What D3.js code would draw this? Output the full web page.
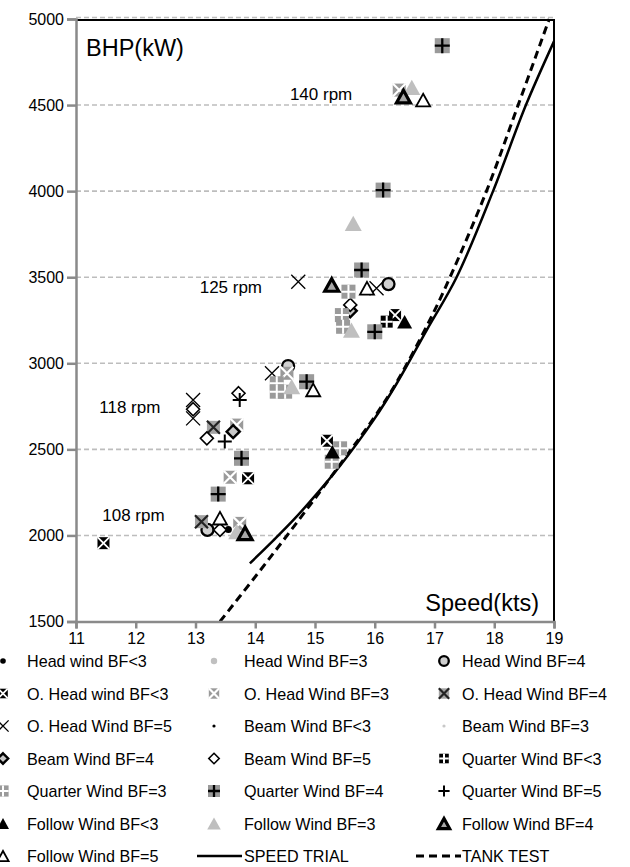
<!DOCTYPE html>
<html><head><meta charset="utf-8">
<script src="https://cdn.jsdelivr.net/npm/d3@7"></script>
<style>body{margin:0;background:#fff} svg{display:block}</style>
</head><body><svg id="c" width="630" height="867"></svg>
<script>
// ---------- data ----------
const xTickValues = [11,12,13,14,15,16,17,18,19];
const yTickValues = [1500,2000,2500,3000,3500,4000,4500,5000];
const rpmLabels = [["140 rpm",14.58,4529],["125 rpm",13.07,3408],["118 rpm",11.39,2711],["108 rpm",11.44,2084]];

const headWindBF0 = [[13.55,2035]];
const headWindBF3 = [];
const headWindBF4 = [[13.2,2032],[14.55,2984],[16.23,3460]];
const oHeadWindBF0 = [[11.46,1955],[13.88,2332],[15.2,2550],[16.34,3280]];
const oHeadWindBF3 = [[13.69,2641],[13.58,2338],[13.74,2070],[14.53,2942],[16.41,4587]];
const oHeadWindBF4 = [[13.30,2628],[13.10,2080]];
const oHeadWindBF5 = [[12.96,2787],[12.96,2680],[14.28,2942],[14.72,3474],[16.03,3436]];
const beamWindBF0 = [];
const beamWindBF3 = [];
const beamWindBF4 = [[13.63,2603],[15.59,3305]];
const beamWindBF5 = [[12.96,2733],[13.72,2826],[13.19,2564],[13.41,2032],[15.59,3339]];
const quarterWindBF0 = [[16.2,3242]];
const quarterWindBF3 = [[14.36,2884],[14.36,2835],[14.5,2835],[15.56,3416],[15.45,3280],[15.47,3212],[15.42,2506],[15.28,2428]];
const quarterWindBF4 = [[13.77,2448],[13.38,2240],[14.86,2893],[15.78,3542],[16.0,3183],[16.14,4006],[17.13,4845]];
const quarterWindBF5 = [[13.74,2787],[13.49,2545]];
const followWindBF0 = [[15.29,2486],[16.5,3242]];
const followWindBF3 = [[13.69,2022],[14.61,2864],[15.61,3193],[15.64,3813],[16.62,4603]];
const followWindBF4 = [[13.83,2012],[15.28,3455],[16.48,4549]];
const followWindBF5 = [[13.41,2100],[14.97,2845],[15.87,3436],[16.81,4529]];

const speedTrial = [[13.91,1838],[14.3,1970],[14.64,2090],[15.0,2230],[15.42,2405],[15.98,2670],[16.37,2884],[16.87,3193],[17.37,3500],[17.98,4000],[18.53,4500],[19.0,4870]];
const tankTest = [[13.41,1500],[14.0,1760],[14.5,1985],[15.0,2215],[15.5,2450],[15.98,2680],[16.37,2892],[16.92,3250],[17.26,3500],[17.87,4000],[18.4,4500],[18.92,5000]];

const seriesNames = ["Head wind BF<3","Head Wind BF=3","Head Wind BF=4","O. Head wind BF<3","O. Head Wind BF=3","O. Head Wind BF=4","O. Head Wind BF=5","Beam Wind BF<3","Beam Wind BF=3","Beam Wind BF=4","Beam Wind BF=5","Quarter Wind BF<3","Quarter Wind BF=3","Quarter Wind BF=4","Quarter Wind BF=5","Follow Wind BF<3","Follow Wind BF=3","Follow Wind BF=4","Follow Wind BF=5"];
const seriesData = [headWindBF0,headWindBF3,headWindBF4,oHeadWindBF0,oHeadWindBF3,oHeadWindBF4,oHeadWindBF5,beamWindBF0,beamWindBF3,beamWindBF4,beamWindBF5,quarterWindBF0,quarterWindBF3,quarterWindBF4,quarterWindBF5,followWindBF0,followWindBF3,followWindBF4,followWindBF5];
const seriesMarkers = ["dotBlack","dotGray","circleBold","xsqBlack","xsqGray","xsqDark","xThin","dotSmallBlack","dotSmallGray","diamondGray","diamondWhite","psqBlack","psqGray","psqGrayBlack","plus","triBlack","triGray","triBold","triWhite"];

// ---------- layout ----------
const svg = d3.select("#c");
const L=76, R=554, T=19, B=621.5;
const x = d3.scaleLinear().domain([11,19]).range([L,R]);
const y = d3.scaleLinear().domain([1500,5000]).range([B,T]);
const FONT = "'Liberation Sans', Arial, sans-serif";

// gridlines
svg.append("g").selectAll("line").data(yTickValues.filter(d=>d>1500)).join("line")
  .attr("x1",L).attr("x2",R).attr("y1",d=>y(d)-(d===5000?1.5:0)).attr("y2",d=>y(d)-(d===5000?1.5:0))
  .attr("stroke","#bdbdbd").attr("stroke-width",1.6).attr("stroke-dasharray","5,3");

// border top/right
svg.append("path").attr("d",`M${L},${T+1}H${R}V${B}`).attr("fill","none").attr("stroke","#000").attr("stroke-width",2);

// curves
svg.append("clipPath").attr("id","pc").append("rect").attr("x",L).attr("y",T-2).attr("width",R-L).attr("height",B-T+2);
const line = d3.line().x(d=>x(d[0])).y(d=>y(d[1])).curve(d3.curveCatmullRom.alpha(0.5));
const cg = svg.append("g").attr("clip-path","url(#pc)");
cg.append("path").attr("d",line(tankTest)).attr("fill","none").attr("stroke","#000").attr("stroke-width",3).attr("stroke-dasharray","8,5");
cg.append("path").attr("d",line(speedTrial)).attr("fill","none").attr("stroke","#000").attr("stroke-width",2.5);

// axes
const yAxis = d3.axisLeft(y).tickValues(yTickValues).tickFormat(d3.format("d")).tickSize(9).tickPadding(3);
const xAxis = d3.axisBottom(x).tickValues(xTickValues).tickFormat(d3.format("d")).tickSize(7).tickPadding(4);
const ya = svg.append("g").attr("transform",`translate(${L},0)`).call(yAxis);
const xa = svg.append("g").attr("transform",`translate(0,${B})`).call(xAxis);
[ya,xa].forEach(a=>{
  a.select(".domain").attr("stroke","#8a8a8a").attr("stroke-width",2.5);
  a.selectAll(".tick line").attr("stroke","#8a8a8a").attr("stroke-width",2.5);
  a.selectAll("text").attr("font-family",FONT).attr("font-size",16).attr("fill","#000");
});

// text labels
svg.append("text").attr("x",86).attr("y",56).attr("font-family",FONT).attr("font-size",23.5).text("BHP(kW)");
svg.append("text").attr("x",539).attr("y",611).attr("text-anchor","end").attr("font-family",FONT).attr("font-size",23.5).text("Speed(kts)");
svg.append("g").selectAll("text").data(rpmLabels).join("text")
  .attr("x",d=>x(d[1])).attr("y",d=>y(d[2])).attr("font-family",FONT).attr("font-size",17).text(d=>d[0]);

// markers
function marker(g,type,s){
  s = s||1;
  const add=(tag)=>g.append(tag);
  const sq=(w,fill)=>add("rect").attr("x",-w/2).attr("y",-w/2).attr("width",w).attr("height",w).attr("fill",fill);
  const X=(w,col,sw)=>add("path").attr("d",`M${-w/2},${-w/2}L${w/2},${w/2}M${-w/2},${w/2}L${w/2},${-w/2}`).attr("stroke",col).attr("stroke-width",sw).attr("fill","none");
  const P=(w,col,sw)=>add("path").attr("d",`M${-w/2},0H${w/2}M0,${-w/2}V${w/2}`).attr("stroke",col).attr("stroke-width",sw).attr("fill","none");
  const tri=(w,fill,stroke,sw)=>{const h=w*0.9;return add("path").attr("d",`M0,${-h/2}L${w/2},${h/2}L${-w/2},${h/2}Z`).attr("fill",fill).attr("stroke",stroke||"none").attr("stroke-width",sw||0);};
  const dia=(w,fill,stroke,sw)=>add("path").attr("d",`M0,${-w/2}L${w/2},0L0,${w/2}L${-w/2},0Z`).attr("fill",fill).attr("stroke",stroke).attr("stroke-width",sw);
  switch(type){
    case "dotBlack": add("circle").attr("r",3.5*s).attr("fill","#000"); break;
    case "dotGray": add("circle").attr("r",4*s).attr("fill","#c0c0c0"); break;
    case "circleBold": add("circle").attr("r",6*s).attr("fill","#cfcfcf").attr("stroke","#000").attr("stroke-width",2.3); break;
    case "xsqBlack": sq(12*s,"#000"); X(12*s,"#fff",1.8); break;
    case "xsqGray": sq(13*s,"#9a9a9a"); X(13*s,"#fff",2.2); break;
    case "xsqDark": sq(13*s,"#a3a3a3"); X(13*s,"#222",2.2); break;
    case "xThin": X(14*s,"#000",1.3); break;
    case "dotSmallBlack": add("circle").attr("r",2*s).attr("fill","#000"); break;
    case "dotSmallGray": add("circle").attr("r",2*s).attr("fill","#c8c8c8"); break;
    case "diamondGray": dia(13*s,"#c8c8c8","#000",2.4); break;
    case "diamondWhite": dia(13*s,"#fff","#000",1.6); break;
    case "psqBlack": sq(12*s,"#000"); P(12*s,"#fff",2); break;
    case "psqGray": sq(14*s,"#9a9a9a"); P(14*s,"#fff",2); break;
    case "psqGrayBlack": sq(15*s,"#9a9a9a"); P(15*s,"#000",2.3); break;
    case "plus": P(14*s,"#000",2); break;
    case "triBlack": tri(15*s,"#000"); break;
    case "triGray": tri(17*s,"#bfbfbf"); break;
    case "triBold": tri(14*s,"#a8a8a8","#000",3.2); break;
    case "triWhite": tri(14*s,"#fff","#000",1.8); break;
  }
}
const pg = svg.append("g");
seriesData.forEach((data,i)=>{
  pg.append("g").selectAll("g").data(data).join("g")
    .attr("transform",d=>`translate(${x(d[0])},${y(d[1])})`)
    .each(function(){ marker(d3.select(this),seriesMarkers[i],1); });
});

// legend
const colMarkerX=[3,214,444], colTextX=[27,244,462];
const rowY = i=>661+i*32.5;
const legendItems = seriesNames.map((n,i)=>({name:n,type:seriesMarkers[i]}));
legendItems.push({name:"SPEED TRIAL",type:"solid"},{name:"TANK TEST",type:"dashed"});
const lg = svg.append("g");
legendItems.forEach((it,i)=>{
  const r=Math.floor(i/3), c=i%3, cy=rowY(r);
  if(it.type==="solid"){
    lg.append("line").attr("x1",197).attr("x2",242).attr("y1",cy).attr("y2",cy).attr("stroke","#000").attr("stroke-width",2.5);
  } else if(it.type==="dashed"){
    lg.append("line").attr("x1",416).attr("x2",461).attr("y1",cy).attr("y2",cy).attr("stroke","#000").attr("stroke-width",3).attr("stroke-dasharray","8,5");
  } else {
    const g=lg.append("g").attr("transform",`translate(${colMarkerX[c]},${cy})`);
    marker(g,it.type,0.8);
  }
  lg.append("text").attr("transform",`translate(${colTextX[c]},${cy+6}) scale(0.95,1)`)
    .attr("font-family",FONT).attr("font-size",17).text(it.name);
});
</script></body></html>
